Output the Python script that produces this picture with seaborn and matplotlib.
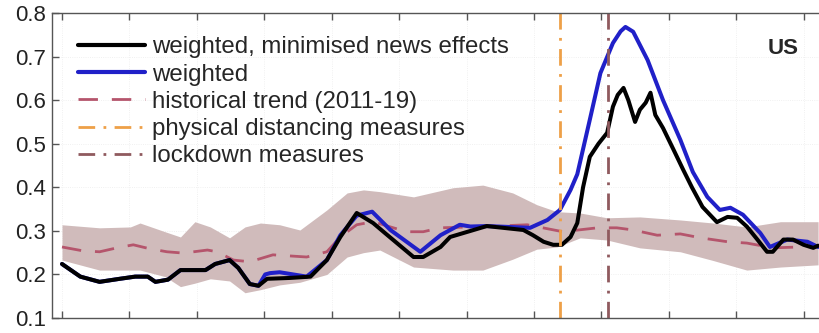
import numpy as np
import pandas as pd
import seaborn as sns
import matplotlib.pyplot as plt

# days since start (ticks every 7 days)
black_x = [0, 1.9, 3.9, 6.0, 7.6, 8.9, 9.7, 11.0, 12.3, 13.8, 14.9, 15.9, 17.4, 18.3, 19.5, 20.4,
           21.3, 23.7, 25.8, 27.5, 28.9, 30.6, 32.3, 33.8, 36.5, 37.5, 39.3, 40.3, 44.1, 47.9,
           48.9, 50.0, 51.0, 51.9, 52.8, 53.5, 54.1, 54.8, 55.7, 56.6, 57.2, 57.7, 58.3, 58.8,
           59.5, 60.0, 60.6, 61.1, 61.6, 62.4, 63.5, 64.5, 65.4, 66.5, 68.0, 69.1, 70.1, 71.1,
           72.2, 73.2, 73.8, 74.9, 75.9, 77.0, 78.0, 78.5]
black_y = [0.224, 0.195, 0.183, 0.19, 0.195, 0.195, 0.183, 0.188, 0.21, 0.21, 0.21, 0.224, 0.233,
           0.215, 0.178, 0.174, 0.19, 0.192, 0.195, 0.233, 0.286, 0.341, 0.318, 0.29, 0.24, 0.24,
           0.263, 0.286, 0.311, 0.302, 0.29, 0.275, 0.268, 0.268, 0.286, 0.318, 0.40, 0.47, 0.50,
           0.525, 0.585, 0.612, 0.628, 0.60, 0.55, 0.578, 0.594, 0.617, 0.566, 0.536, 0.486,
           0.44, 0.40, 0.355, 0.32, 0.332, 0.33, 0.31, 0.28, 0.252, 0.252, 0.28, 0.28, 0.268,
           0.261, 0.266]

blue_x = [0, 1.9, 3.9, 6.0, 7.6, 8.9, 9.7, 11.0, 12.3, 13.8, 14.9, 15.9, 17.4, 18.3, 19.5, 20.4,
          21.1, 21.6, 22.6, 25.4, 27.5, 28.9, 30.6, 32.2, 34.1, 37.2, 39.3, 41.3, 42.4, 44.1,
          48.6, 50.4, 51.7, 52.8, 53.5, 54.8, 55.9, 57.2, 58.0, 58.5, 59.3, 60.8, 62.4, 64.2,
          65.5, 67.0, 68.3, 69.4, 70.7, 72.5, 73.5, 75.3, 77.4, 78.5]
blue_y = [0.224, 0.195, 0.183, 0.19, 0.195, 0.195, 0.183, 0.188, 0.21, 0.21, 0.21, 0.224, 0.233,
          0.215, 0.178, 0.174, 0.20, 0.203, 0.205, 0.195, 0.233, 0.29, 0.335, 0.344, 0.302,
          0.252, 0.29, 0.314, 0.31, 0.311, 0.307, 0.325, 0.348, 0.394, 0.43, 0.555, 0.662,
          0.731, 0.758, 0.768, 0.757, 0.692, 0.60, 0.509, 0.435, 0.378, 0.348, 0.353, 0.337,
          0.295, 0.263, 0.28, 0.275, 0.263]

trend_x = [0, 2.2, 3.9, 5.7, 7.4, 9.1, 10.9, 12.6, 15.1, 16.1, 17.8, 19.5, 21.9, 25.4, 27.5,
           28.9, 30.6, 32.3, 34.4, 35.8, 37.5, 39.3, 44.1, 48.3, 52.0, 55.6, 57.6, 59.3, 61.8,
           64.2, 66.3, 69.1, 71.1, 73.8, 76.6, 78.5]
trend_y = [0.263, 0.254, 0.252, 0.261, 0.268, 0.259, 0.252, 0.249, 0.256, 0.252, 0.233, 0.229,
           0.245, 0.24, 0.252, 0.286, 0.314, 0.321, 0.307, 0.298, 0.298, 0.307, 0.31, 0.314,
           0.298, 0.307, 0.307, 0.302, 0.29, 0.293, 0.284, 0.275, 0.272, 0.261, 0.263, 0.266]

band_x = [0, 3.9, 7.1, 8.1, 10.7, 12.3, 13.8, 15.4, 17.4, 19.0, 20.6, 22.6, 24.7, 27.5, 29.6,
          31.3, 33.0, 36.5, 40.6, 43.7, 46.8, 49.3, 51.4, 53.8, 56.6, 60.0, 64.2, 67.6, 71.1,
          74.6, 78.5]
band_hi = [0.314, 0.307, 0.309, 0.318, 0.298, 0.286, 0.321, 0.309, 0.284, 0.309, 0.318, 0.314,
           0.302, 0.348, 0.387, 0.394, 0.39, 0.378, 0.399, 0.405, 0.387, 0.36, 0.344, 0.341,
           0.33, 0.332, 0.325, 0.318, 0.309, 0.321, 0.321]
band_lo = [0.233, 0.21, 0.21, 0.21, 0.195, 0.172, 0.18, 0.19, 0.185, 0.158, 0.165, 0.176, 0.182,
           0.2, 0.24, 0.25, 0.256, 0.217, 0.21, 0.21, 0.235, 0.258, 0.263, 0.284, 0.279, 0.261,
           0.252, 0.232, 0.21, 0.217, 0.222]

distancing_day = 51.7
lockdown_day = 56.7
yticks = [0.1, 0.2, 0.3, 0.4, 0.5, 0.6, 0.7, 0.8]

sns.set_style("ticks")
plt.rcParams['font.family'] = ['Liberation Sans', 'DejaVu Sans']

c_blue = '#2020c8'
c_trend = '#b5556c'
c_dist = '#eea048'
c_lock = '#8f5a5e'
dashdot = (0, (6, 3, 1, 3))

fig = plt.figure(figsize=(8.2, 3.33), dpi=100)
ax = fig.add_axes([0.0634, 0.045, 0.9366, 0.916])

ax.fill_between(band_x, band_lo, band_hi, color='#d0bbbb', linewidth=0)
sns.lineplot(x=trend_x, y=trend_y, ax=ax, color=c_trend, linewidth=2.0,
             linestyle=(0, (7, 5)), estimator=None)
sns.lineplot(x=blue_x, y=blue_y, ax=ax, color=c_blue, linewidth=2.9, estimator=None)
sns.lineplot(x=black_x, y=black_y, ax=ax, color='black', linewidth=2.9, estimator=None)
ax.axvline(distancing_day, color=c_dist, linewidth=2.0, linestyle=dashdot)
ax.axvline(lockdown_day, color=c_lock, linewidth=2.0, linestyle=dashdot)

ax.set_xlim(-1.04, 78.7)
ax.set_ylim(0.1, 0.8)
ax.set_xticks(np.arange(0, 78, 7))
ax.set_xticklabels([])
ax.set_yticks(yticks)
ax.set_yticklabels([f'{v:.1f}' for v in yticks], fontsize=16, color='#222222')
ax.tick_params(axis='both', direction='in', length=5, width=1, color='#555555',
               top=True, right=False, pad=4)
ax.grid(True, color='#ececec', linewidth=0.6, linestyle=':')
for s in ['left', 'bottom', 'top']:
    ax.spines[s].set_color('#555555')
    ax.spines[s].set_linewidth(1)
ax.spines['right'].set_visible(False)

ax.text(0.952, 0.884, 'US', transform=ax.transAxes, fontsize=16, fontweight='bold',
        ha='center', va='center')

h_black, = ax.plot([], [], color='black', linewidth=3)
h_blue, = ax.plot([], [], color=c_blue, linewidth=3)
h_trend, = ax.plot([], [], color=c_trend, linewidth=2.0, linestyle=(0, (7, 5)))
h_dist, = ax.plot([], [], color=c_dist, linewidth=2.0, linestyle=dashdot)
h_lock, = ax.plot([], [], color=c_lock, linewidth=2.0, linestyle=dashdot)
ax.legend([h_black, h_blue, h_trend, h_dist, h_lock],
          ['weighted, minimised news effects', 'weighted', 'historical trend (2011-19)',
           'physical distancing measures', 'lockdown measures'],
          loc='upper left', bbox_to_anchor=(0.022, 0.955), frameon=False, fontsize=17.3,
          handlelength=2.75, handletextpad=0.3, labelspacing=0.22, borderaxespad=0)

fig.savefig('out.png', dpi=100)
